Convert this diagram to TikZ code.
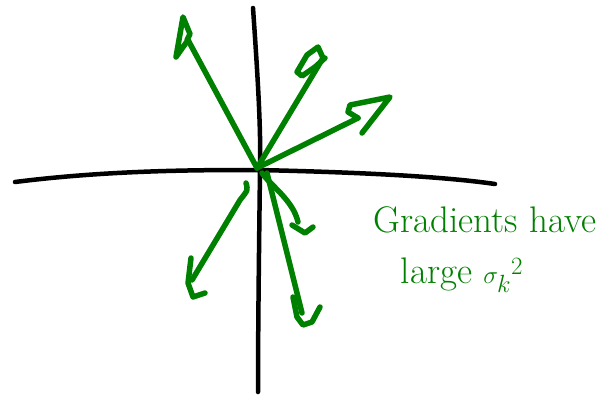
\documentclass[tikz,border=0pt]{standalone}
\usepackage{tikz}
\usetikzlibrary{positioning}
\usepackage{xcolor}
\definecolor{penGreen}{RGB}{0,128,0}

\begin{document}
\begin{tikzpicture}[x=1pt, y=-1pt,
  axis/.style={line width=4.5pt, line cap=round, black},
  pen/.style={line width=5.5pt, line cap=round, line join=round, penGreen}]
\useasboundingbox (0,0) rectangle (607,397);

% Axes
\draw[axis] (15,182) .. controls (110,170) and (200,170) .. (258,170)
  .. controls (350,172) and (440,176) .. (495,184);
\draw[axis] (253,8) .. controls (258,80) and (261,130) .. (260,170)
  .. controls (259,250) and (258,330) .. (258,392);

\coordinate (o) at (257,168);

% Gradients pointing up
\coordinate (g1) at (188,40);
\draw[pen] (o) -- (g1);
\draw[pen] (g1) -- (176,57) -- (183,17) -- (190,34) -- (187,40);
\coordinate (g2) at (323,58);
\draw[pen] (o) -- (g2);
\draw[pen] (g2) -- (318,47) -- (307,55) -- (297,72) -- (302,76) -- (315,67) -- (325,58);
\coordinate (g3) at (358,118);
\draw[pen] (o) -- (g3);
\draw[pen] (g3) -- (348,112) -- (350,105) -- (390,97) -- (362,133);

% Gradients pointing down
\coordinate (s4) at (246,183);
\coordinate (g4) at (192,280);
\draw[pen] (s4) .. controls (248,190) .. (240,200) -- (g4);
\draw[pen] (191,258) -- (188,283) -- (193,297) -- (205,293);
\coordinate (s5) at (267,173);
\coordinate (g5) at (302,313);
\draw[pen] (s5) -- (g5);
\draw[pen] (293,297) -- (297,317) -- (303,325) -- (312,322) -- (320,307);
\coordinate (s6) at (262,173);
\coordinate (g6) at (298,222);
\draw[pen] (s6) .. controls (270,185) and (293,200) .. (g6);
\draw[pen] (292,225) -- (305,233) -- (313,227);

% Note
\node[text=penGreen, font=\fontsize{37}{40}\selectfont] (note1) at (485,220) {Gradients have};
\node[text=penGreen, font=\fontsize{37}{40}\selectfont] (note2) at (462,275) {large $\sigma_k{}^{2}$};

\end{tikzpicture}
\end{document}
